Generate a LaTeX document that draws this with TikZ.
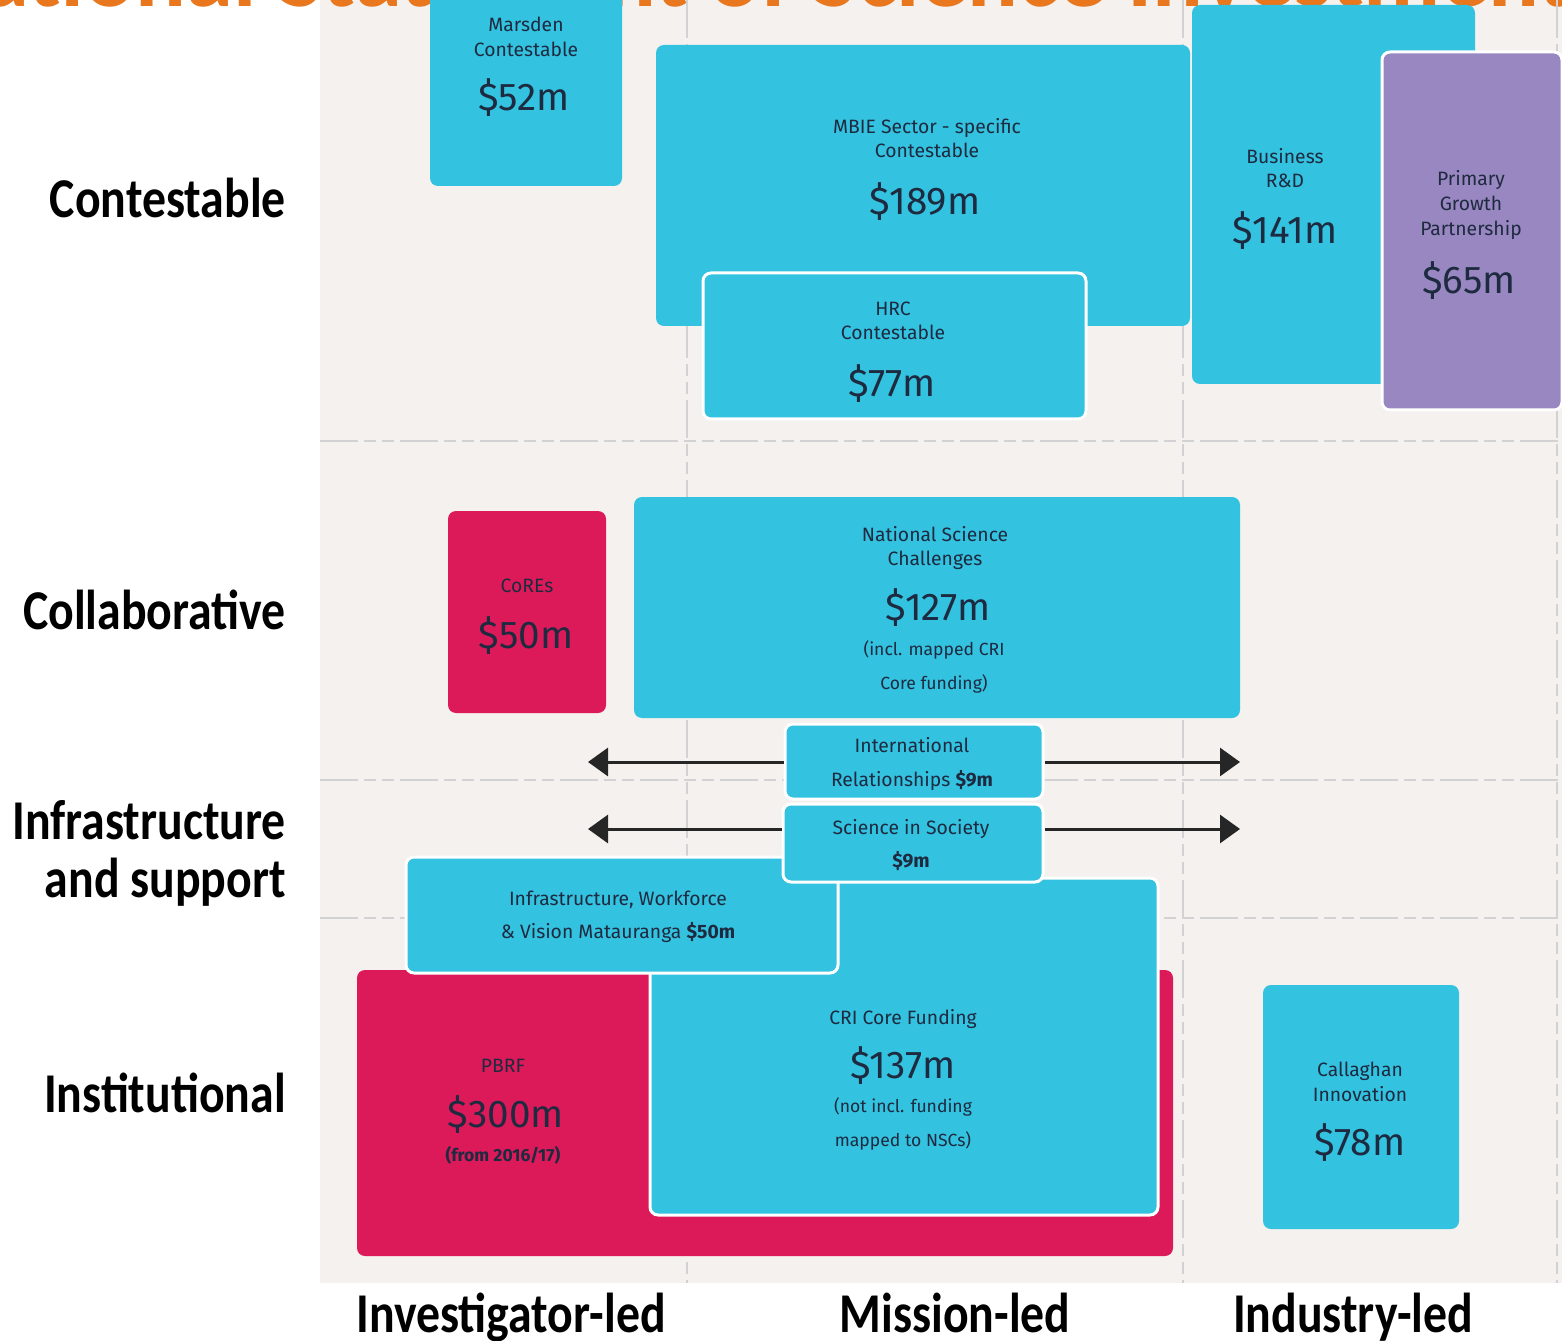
\documentclass[tikz,border=0pt]{standalone}
\usepackage{fontspec}
\setmainfont{Fira Sans}
\newfontfamily\boxfont{Fira Sans}
\newfontfamily\lblfont[FakeStretch=0.85]{Carlito}
\newfontfamily\ttlfont{Carlito}
\usetikzlibrary{arrows.meta,fit}

\definecolor{nzcyan}{HTML}{33C2E0}
\definecolor{nzpink}{HTML}{DC1A59}
\definecolor{nzpurple}{HTML}{9887C0}
\definecolor{panel}{HTML}{F4F1EE}
\definecolor{ink}{HTML}{1E2A3F}
\definecolor{gridln}{HTML}{D2D2D4}
\definecolor{nzorange}{HTML}{E8771E}

\begin{document}
\begin{tikzpicture}[
    x=0.02cm, y=-0.02cm,
    box/.style    ={rectangle, rounded corners=1.6mm, inner sep=0pt},
    cyanbox/.style={box, fill=nzcyan},
    pinkbox/.style={box, fill=nzpink},
    purpbox/.style={box, fill=nzpurple},
    over/.style   ={draw=white, line width=0.6mm},
    fundname/.style={align=center, text=ink, font=\boxfont\fontsize{11}{14}\selectfont},
    amt/.style    ={text=ink, font=\boxfont\fontsize{22}{26}\selectfont},
    fundnote/.style={align=center, text=ink, font=\boxfont\fontsize{10}{19}\selectfont},
    rowlbl/.style ={anchor=east, align=right, font=\lblfont\bfseries\fontsize{32}{33}\selectfont},
    collbl/.style ={anchor=base, font=\lblfont\bfseries\fontsize{32}{33}\selectfont},
    gridline/.style={draw=gridln, line width=0.4mm,
      dash pattern=on 7.6mm off 1.2mm on 2.4mm off 1.2mm on 2.4mm off 1.2mm},
    arr/.style={-{Triangle[length=4mm,width=5.6mm]}, line width=0.6mm, draw=black!85}
]
  \useasboundingbox (0,0) rectangle (1562,1341);
  \fill[panel] (320,0) rectangle (1562,1283);

  % cut-off title
  \node[anchor=base, text=nzorange, font=\ttlfont\bfseries\fontsize{54}{60}\selectfont]
    (title) at (746,7) {National Statement of Science Investment};

  % grid
  \draw[gridline] (320,441) -- (1562,441);
  \draw[gridline] (320,780) -- (1562,780);
  \draw[gridline] (320,918) -- (1562,918);
  \draw[gridline] (687,0) -- (687,1283);
  \draw[gridline] (1183,0) -- (1183,1283);
  \draw[gridline] (1557,0) -- (1557,1283);

  % contestable
  \node[cyanbox, fit={(430,-10) (622,186)}] (marsden) {};
  \node[cyanbox, fit={(656,45) (1190,326)}] (mbie) {};
  \node[cyanbox, fit={(1192,5) (1475,384)}] (bizrd) {};
  \node[cyanbox, over, fit={(703,273) (1086,419)}] (hrc) {};
  \node[purpbox, over, fit={(1382,52) (1562,410)}] (pgp) {};

  \node[fundname] (marsdenN) at (526,37) {Marsden\\Contestable};
  \node[amt]  (marsdenA) at (524,98) {\$52m};
  \node[fundname] (mbieN) at (927,138) {MBIE Sector - specific\\Contestable};
  \node[amt]  (mbieA) at (925,202) {\$189m};
  \node[fundname] (hrcN) at (893,321) {HRC\\Contestable};
  \node[amt]  (hrcA) at (892,384) {\$77m};
  \node[fundname] (bizrdN) at (1285,168) {Business\\R\&D};
  \node[amt]  (bizrdA) at (1285,231) {\$141m};
  \node[fundname] (pgpN) at (1471,205) {Primary\\Growth\\Partnership};
  \node[amt]  (pgpA) at (1469,281) {\$65m};

  % collaborative
  \node[pinkbox, fit={(448,511) (606,713)}] (cores) {};
  \node[cyanbox, fit={(634,497) (1240,718)}] (nsc) {};
  \node[fundname] (coresN) at (527,586) {CoREs};
  \node[amt]  (coresA) at (526,636) {\$50m};
  \node[fundname] (nscN) at (935,548) {National Science\\Challenges};
  \node[amt]  (nscA) at (938,608) {\$127m};
  \node[fundnote] (nscS) at (934,667) {(incl. mapped CRI\\Core funding)};

  % institutional
  \node[pinkbox, fit={(357,970) (1173,1256)}] (pbrf) {};
  \node[cyanbox, over, fit={(650,878) (1158,1215)}] (cri) {};
  \node[cyanbox, over, fit={(406,857) (838,973)}] (infra) {};
  \node[cyanbox, fit={(1263,985) (1459,1229)}] (callaghan) {};

  \node[fundname] (pbrfN) at (503,1066) {PBRF};
  \node[amt]  (pbrfA) at (506,1115) {\$300m};
  \node[fundnote] (pbrfS) at (503,1155) {\bfseries(from 2016/17)};
  \node[fundname] (criN) at (903,1019) {CRI Core Funding};
  \node[amt]  (criA) at (903,1066) {\$137m};
  \node[fundnote] (criS) at (903,1124) {(not incl. funding\\mapped to NSCs)};
  \node[fundname, font=\boxfont\fontsize{11}{19}\selectfont] (infraN) at (618,917)
    {Infrastructure, Workforce\\\& Vision Matauranga \textbf{\$50m}};
  \node[fundname] (callaghanN) at (1360,1082) {Callaghan\\Innovation};
  \node[amt]  (callaghanA) at (1360,1143) {\$78m};

  % infrastructure and support
  \node[cyanbox, over, fit={(785,724) (1043,799)}] (intl) {};
  \node[cyanbox, over, fit={(783,804) (1043,882)}] (sis) {};
  \node[fundname, font=\boxfont\fontsize{11}{19}\selectfont] (intlN) at (912,764)
    {International\\Relationships \textbf{\$9m}};
  \node[fundname, font=\boxfont\fontsize{11}{19}\selectfont] (sisN) at (911,845)
    {Science in Society\\\textbf{\$9m}};

  \coordinate (intlL) at (588,762);
  \coordinate (intlR) at (1240,762);
  \coordinate (sisL)  at (588,829);
  \coordinate (sisR)  at (1240,829);
  \draw[arr] (intl.west |- intlL) -- (intlL);
  \draw[arr] (intl.east |- intlR) -- (intlR);
  \draw[arr] (sis.west |- sisL) -- (sisL);
  \draw[arr] (sis.east |- sisR) -- (sisR);

  % axis labels
  \node[rowlbl] (rContest) at (292,198) {Contestable};
  \node[rowlbl] (rCollab)  at (292,610) {Collaborative};
  \node[rowlbl] (rInfra)   at (292,853) {Infrastructure\\and support};
  \node[rowlbl] (rInst)    at (292,1093) {Institutional};
  \node[collbl] (cInv) at (511,1332) {Investigator-led};
  \node[collbl] (cMis) at (955,1332) {Mission-led};
  \node[collbl] (cInd) at (1353,1332) {Industry-led};
\end{tikzpicture}
\end{document}
